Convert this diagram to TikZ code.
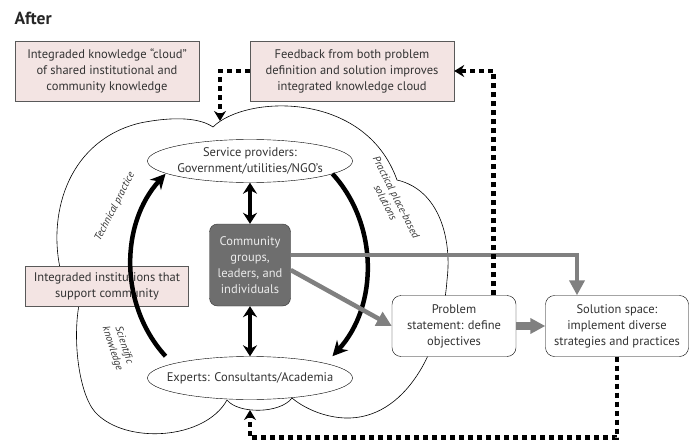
\documentclass[tikz,border=0pt]{standalone}
\usepackage{fontspec}
\setmainfont{PT Sans}
\usetikzlibrary{arrows.meta,shapes.geometric,calc}
\definecolor{notepink}{HTML}{F3E4E3}
\definecolor{inkgray}{HTML}{333333}
\definecolor{commgray}{HTML}{6E6E6E}
\definecolor{flowgray}{HTML}{808080}
\tikzset{
  notebox/.style={draw=black!65, fill=notepink, align=center, inner sep=0pt, text=inkgray},
  actorell/.style={ellipse, draw, fill=white, minimum width=205pt, minimum height=43pt, inner xsep=-16pt, inner ysep=0pt, align=center, text=inkgray},
  stepbox/.style={draw, fill=white, rounded corners=9pt, minimum height=61pt, inner sep=2pt, align=center, text=inkgray},
  cyclearrow/.style={line width=4.5pt, -{Stealth[length=15pt,width=15pt]}},
  twoway/.style={line width=3.5pt, {Stealth[length=11pt,width=14pt]}-{Stealth[length=11pt,width=14pt]}},
  grayflow/.style={draw=flowgray, line width=4.5pt, -{Triangle[length=15pt,width=15pt]}, color=flowgray},
  dashback/.style={line width=4.5pt, dash pattern=on 5pt off 4pt, -{Stealth[length=10pt,width=12pt]}},
  themelabel/.style={font=\itshape\fontsize{10.5}{12}\selectfont, text=inkgray, align=center},
}
\begin{document}
\begin{tikzpicture}[x=1pt,y=-1pt, font=\fontsize{12.5}{16}\selectfont]
  \useasboundingbox (0,0) rectangle (696,441);
  \node[anchor=west, font=\bfseries\fontsize{17.5}{20}\selectfont, text=black!85] (title) at (11,18) {After};

  % knowledge cloud
  \draw[fill=white, line width=0.6pt] (60,268) .. controls (48,210) and (70,140) .. (140,123)
    .. controls (175,116) and (200,118) .. (213,127)
    .. controls (245,95) and (365,90) .. (397,180)
    .. controls (440,190) and (452,240) .. (447,280)
    .. controls (442,350) and (405,420) .. (345,418)
    .. controls (320,417) and (300,405) .. (292,398)
    .. controls (280,414) and (238,414) .. (227,400)
    .. controls (205,440) and (125,445) .. (95,412)
    .. controls (78,392) and (72,335) .. (80,300) -- cycle;

  \node[notebox, minimum width=184pt, minimum height=60pt] (cloudnote) at (107,71) {Integraded knowledge “cloud”\\of shared institutional and\\community knowledge};
  \node[notebox, minimum width=204pt, minimum height=60pt] (feedbacknote) at (352,71) {Feedback from both problem\\definition and solution improves\\integrated knowledge cloud};
  \node[notebox, minimum width=163pt, minimum height=40pt] (instnote) at (107,286) {Integraded institutions that\\support community};

  \node[actorell] (providers) at (250,161) {Service providers:\\Government/utilities/NGO’s};
  \node[actorell] (experts) at (250,378) {Experts: Consultants/Academia};
  \node[draw=black!80, fill=commgray, text=white!92!black, rounded corners=8pt, minimum width=81pt, minimum height=82pt, inner sep=0pt, align=center] (community) at (250,265) {Community\\groups,\\leaders, and\\individuals};
  \node[stepbox, minimum width=124pt] (problem) at (454,326) {Problem\\statement: define\\objectives};
  \node[stepbox, minimum width=143pt] (solution) at (617,326) {Solution space:\\implement diverse\\strategies and practices};

  \coordinate (hub) at (249,265);
  \draw[cyclearrow] ($(hub)+(135:118 and 129)$) arc[start angle=135, end angle=225, x radius=118, y radius=129];
  \draw[cyclearrow] ($(hub)+(-45:118 and 129)$) arc[start angle=-45, end angle=45, x radius=118, y radius=129];
  \draw[twoway] (providers.south) -- (community.north);
  \draw[twoway] (community.south) -- (experts.north);

  \node[themelabel, rotate=63] (techlbl) at (115,207) {Technical practice};
  \node[themelabel, rotate=-72] (scilbl) at (118,347) {Scientific\\knowledge};
  \node[themelabel, rotate=-63] (praclbl) at (391,200) {Practical place-based\\solutions};

  \draw[grayflow] ([yshift=10pt]community.east) -| ([xshift=-40pt]solution.north);
  \draw[grayflow] ([yshift=-5pt]community.east) -- (problem.west);
  \draw[grayflow, line width=8pt] (problem) -- (solution);

  \coordinate (cloudtop) at (220,121);
  \coordinate (cloudbase) at (250,410);
  \draw[dashback] ([xshift=39.5pt]problem.north) |- (feedbacknote.east);
  \draw[dashback] (feedbacknote.west) -| (cloudtop);
  \draw[dashback] (solution.south) -- ++(0,81) -| (cloudbase);
\end{tikzpicture}
\end{document}
